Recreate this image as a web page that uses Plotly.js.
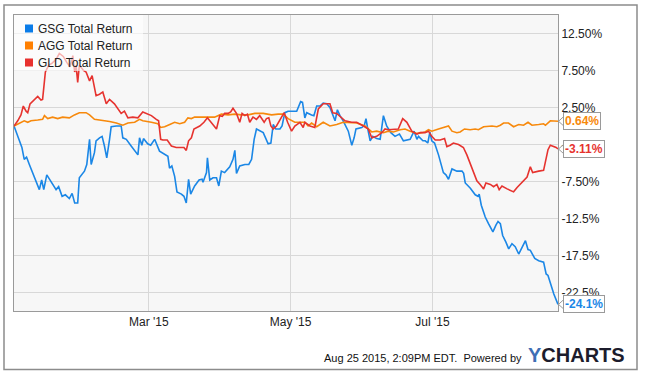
<!DOCTYPE html>
<html>
<head>
<meta charset="utf-8">
<script src="https://cdn.plot.ly/plotly-3.0.1.min.js"></script>
<style>
  html, body { margin: 0; padding: 0; background: #ffffff; }
  #chart { width: 648px; height: 374px; }
</style>
</head>
<body>
<div id="chart"></div>
<script>
// ---- Data (day-of-year 2015, total return in %) ----
var seriesNames = ["GSG Total Return", "AGG Total Return", "GLD Total Return"];
var seriesColors = ["#1b87e6", "#f7890c", "#e6332f"];

var gsgDays = [
  2, 4.3, 5.4, 6.4, 7.4, 8.6, 10.0, 11.5, 12.9, 13.9,
  14.8, 16.1, 18.0, 20.1, 21.2, 22.7, 24.1, 25.8, 27.0, 28.1,
  29.4, 30.1, 32.3, 33.3, 34.5, 35.2, 36.6, 37.3, 38.8, 39.9,
  40.9, 41.9, 43.1, 43.8, 46.0, 48.1, 48.8, 50.3, 52.4, 54.6,
  55.3, 56.0, 57.0, 57.7, 59.5, 60.8, 62.5, 64.6, 66.8, 68.2,
  68.9, 69.9, 71.1, 72.1, 74.0, 75.1, 76.1, 77.1, 78.0, 79.7,
  81.6, 82.9, 83.3, 84.8, 85.2, 86.2, 87.6, 89.1, 90.1, 91.2,
  92.6, 94.8, 96.2, 97.0, 97.7, 99.1, 101.3, 103.0, 104.2, 105.3,
  106.3, 107.7, 109.2, 110.2, 111.3, 112.5, 113.5, 114.6, 116.4, 117.3,
  118.5, 119.9, 123.6, 125.3, 126.1, 127.1, 127.9, 130.0, 131.0, 132.2,
  133.6, 135.0, 136.5, 137.9, 140.1, 141.1, 142.2, 143.6, 145.8, 147.3,
  148.3, 149.1, 151.6, 152.7, 153.4, 154.0, 155.2, 156.3, 158.0, 159.5,
  160.9, 162.3, 164.1, 165.9, 167.8, 169.5, 171.2, 172.4, 174.1, 175.3,
  176.0, 177.9, 178.9, 180.0, 180.9, 181.7, 182.9, 184.6, 186.7, 187.8,
  188.9, 190.4, 192.5, 194.7, 195.4, 196.1, 198.3, 200.4, 201.6, 202.1,
  203.0, 204.7, 206.1, 208.0, 209.3, 210.2, 211.2, 212.2, 213.6, 214.8,
  216.2, 217.6, 219.1, 220.8, 222.0, 223.1, 224.1, 226.0, 227.7, 229.8,
  230.9, 231.7, 232.7, 234.2, 236.0
];
var gsgVals = [
  0, -1.8, -2.9, -4.5, -4.2, -5.2, -6.3, -7.7, -8.6, -7.3,
  -8.6, -6.6, -7.5, -8.6, -8.2, -9.5, -9.3, -9.8, -9.1, -10.4,
  -10.4, -7.0, -6.1, -5.2, -1.8, -5.2, -3.6, -2.0, -1.6, -1.4,
  -2.7, -4.3, -1.8, -0.1, 0, 0, -1.6, -1.8, -2.7, -3.7,
  -3.9, -1.6, -2.6, -1.7, -2.4, -2.6, -1.8, -3.4, -3.9, -4.1,
  -5.7, -5.4, -6.8, -8.9, -9.2, -9.5, -10.4, -7.2, -9.2, -8.1,
  -7.3, -7.2, -7.6, -6.3, -4.3, -7.3, -7.0, -7.0, -8.1, -6.1,
  -6.3, -5.5, -4.5, -3.3, -6.4, -5.4, -5.2, -5.2, -4.5, -1.8,
  -0.4, -0.7, -0.9, -1.6, -2.4, -2.3, 0.2, -0.4, -0.4, 0,
  1.8, 2.0, 2.0, 3.3, 3.2, 1.1, 1.8, 1.5, 1.4, 2.7,
  2.7, 3.1, 3.0, 2.5, 0.7, 2.2, 1.4, 0.7, -0.7, -2.6,
  -1.6, -0.4, -0.2, 0.1, 1.0, -0.1, -2.0, -1.4, -1.7, -1.8,
  1.4, 0, -0.9, -1.4, -1.1, -2.0, -1.9, -1.8, -0.7, -1.8,
  -1.4, -2.0, -2.0, -2.3, -0.8, -2.0, -2.3, -3.9, -6.3, -6.6,
  -7.2, -5.8, -6.1, -6.1, -6.4, -7.7, -8.4, -9.3, -9.5, -9.2,
  -10.7, -12.3, -13.2, -14.3, -13.4, -12.9, -13.2, -14.8, -15.7, -16.6,
  -15.9, -16.3, -17.3, -16.3, -15.5, -16.7, -16.8, -17.9, -18.2, -18.4,
  -20.0, -20.2, -21.3, -22.7, -24.1
];

var aggDays = [
  2, 4.3, 6.4, 7.9, 9.3, 12.2, 14.3, 15.1, 16.5, 18.6,
  20.8, 22.9, 25.8, 28.0, 30.1, 33.0, 34.5, 36.6, 39.5, 43.1,
  46.0, 48.8, 51.0, 53.9, 56.0, 57.4, 61.1, 63.9, 65.1, 66.8,
  69.0, 71.1, 73.3, 75.4, 76.8, 78.3, 79.7, 82.6, 85.4, 88.3,
  91.2, 94.1, 97.0, 99.8, 102.7, 105.6, 109.2, 112.8, 115.6, 117.8,
  119.9, 122.8, 125.0, 127.1, 128.5, 130.0, 132.2, 135.0, 137.9, 140.8,
  143.6, 146.5, 149.4, 153.0, 155.9, 158.0, 160.9, 163.0, 165.2, 168.1,
  170.2, 172.4, 175.3, 177.4, 178.8, 180.3, 181.7, 184.6, 187.5, 188.9,
  190.4, 192.5, 193.9, 195.8, 198.2, 200.4, 201.8, 204.0, 207.6, 209.7,
  211.2, 212.6, 214.7, 216.9, 219.1, 221.2, 223.1, 224.8, 227.7, 229.8,
  230.6, 232.7, 236.0
];
var aggVals = [
  0, 0.4, 0.7, 0.5, 0.7, 0.8, 0.9, 1.4, 1.0, 1.2,
  1.0, 1.2, 1.1, 1.5, 1.8, 1.8, 1.5, 0.9, 0.8, 0.6,
  0.4, 0.1, 0.4, 0.5, 0.9, 0.7, 0.5, 0.3, -0.2, -0.1,
  0.2, 0.5, 0.3, 0.5, 1.1, 1.0, 1.2, 1.2, 1.3, 1.2,
  1.6, 1.5, 1.6, 1.5, 1.5, 1.7, 1.7, 1.5, 1.6, 1.6,
  1.0, 0.5, 0.5, 0.5, 0, 0.4, -0.1, 0.5, 0, 0.2,
  0.5, 0.5, 0.4, 0, -0.8, -0.7, -0.9, -0.7, -0.8, -0.5,
  -0.4, -0.7, -1.0, -0.9, -0.8, -0.5, -0.7, -0.4, -0.1, 0,
  -0.7, -0.9, -0.8, -0.4, -0.5, -0.4, -0.5, -0.1, 0, -0.1,
  0.1, 0.4, 0.4, -0.1, 0.2, 0.1, 0.5, 0.1, 0.2, 0.3,
  0.1, 0.7, 0.64
];

var gldDays = [
  2, 3.6, 5.0, 6.0, 7.2, 7.9, 8.9, 10.7, 12.2, 13.6,
  14.3, 15.5, 16.9, 18.4, 20.1, 21.5, 23.2, 24.7, 26.1, 27.3,
  28.1, 28.7, 29.4, 30.1, 31.9, 33.0, 34.5, 35.6, 37.3, 38.8,
  40.2, 41.7, 43.1, 45.2, 46.7, 48.1, 49.5, 51.0, 53.1, 55.3,
  57.4, 61.1, 63.2, 64.2, 65.1, 66.0, 67.9, 69.7, 71.8, 74.0,
  75.1, 76.1, 77.1, 78.3, 79.4, 81.9, 83.7, 85.2, 86.9, 89.1,
  90.5, 91.6, 92.6, 94.1, 95.2, 96.2, 97.7, 99.1, 100.1, 101.3,
  102.4, 103.4, 104.8, 106.3, 107.7, 109.6, 110.6, 111.6, 112.5, 113.5,
  114.9, 116.3, 118.2, 119.7, 121.4, 122.8, 125.0, 126.4, 127.1, 129.3,
  131.4, 132.9, 135.0, 137.9, 139.1, 140.8, 142.9, 144.4, 147.2, 149.4,
  152.3, 154.4, 155.9, 158.0, 160.2, 161.6, 163.0, 165.9, 167.3, 169.2,
  171.0, 173.1, 175.3, 176.7, 178.8, 180.3, 181.7, 183.2, 185.3, 187.2,
  188.2, 189.6, 191.0, 193.2, 195.3, 196.8, 199.0, 201.1, 202.5, 204.0,
  205.0, 206.9, 208.3, 209.7, 210.7, 211.9, 214.1, 215.5, 216.9, 218.4,
  220.5, 222.7, 224.1, 225.1, 227.7, 229.8, 231.7, 232.7, 235.2, 236.0
];
var gldVals = [
  0, 0.7, 1.5, 2.7, 2.0, 1.8, 3.0, 3.5, 4.0, 3.5,
  3.6, 7.3, 8.2, 8.5, 9.0, 9.8, 9.4, 8.6, 8.0, 9.5,
  7.3, 8.2, 5.9, 8.2, 7.5, 7.3, 6.1, 6.8, 4.1, 4.3,
  4.6, 3.0, 3.6, 3.0, 2.3, 1.7, 2.0, 1.1, 1.2, 1.1,
  1.9, 1.4, 0.9, 0.7, -1.8, -1.9, -1.9, -2.7, -2.9, -2.9,
  -2.9, -3.3, -2.0, -1.6, -0.4, 0, 0.5, 1.1, 0.5, -0.4,
  1.4, 1.3, 1.7, 1.7, 1.9, 2.4, 1.7, 0.5, 1.7, 1.4,
  1.6, 0.5, 1.2, 0.9, 1.4, 0.5, 1.0, 1.1, 0, -0.4,
  0, 0.7, 1.8, 0.5, -0.7, 0, 0.5, -0.2, 0.5, 0,
  -0.2, 2.3, 3.0, 3.0, 1.8, 1.7, 1.1, 0.7, 0.5, 0.5,
  0, -0.4, -1.6, -1.4, -0.9, -0.4, -0.5, -0.4, -0.4, 1.0,
  0.5, -0.7, -1.1, -0.9, -0.9, -0.7, -1.4, -1.9, -1.9, -1.7,
  -2.8, -2.6, -2.3, -2.5, -2.9, -3.9, -5.8, -7.4, -7.9, -8.5,
  -7.7, -7.9, -8.2, -7.9, -8.6, -8.1, -8.5, -8.7, -8.9, -8.3,
  -7.6, -6.9, -5.5, -6.3, -6.1, -6.0, -3.2, -2.6, -2.9, -3.11
];

var endLabels = ["-24.1%", "0.64%", "-3.11%"];

var yTickVals = [12.5, 7.5, 2.5, -2.5, -7.5, -12.5, -17.5, -22.5];
var yTickText = ["12.50%", "7.50%", "2.50%", "-2.50%", "-7.50%", "-12.5%", "-17.5%", "-22.5%"];
var xTickVals = ["2015-03-01", "2015-05-01", "2015-07-01"];
var xTickText = ["Mar '15", "May '15", "Jul '15"];
var xRange = ["2015-01-02", "2015-08-24"];
var yRange = [-25, 15];

var footerText = "Aug 25 2015, 2:09PM EDT.  Powered by";

// ---- helpers ----
function dayToDate(d) {
  var ms = Date.UTC(2015, 0, 1) + (d - 1) * 86400000;
  return new Date(ms).toISOString().replace('T', ' ').slice(0, 19);
}

var allDays = [gsgDays, aggDays, gldDays];
var allVals = [gsgVals, aggVals, gldVals];

var FONT = "Liberation Sans, Arial, Helvetica, sans-serif";

var traces = [];
for (var i = 0; i < 3; i++) {
  traces.push({
    type: 'scatter',
    mode: 'lines',
    name: seriesNames[i],
    x: allDays[i].map(dayToDate),
    y: allVals[i],
    line: { color: seriesColors[i], width: 1.6 },
    hoverinfo: 'skip',
    showlegend: false
  });
}

// plot area geometry (px) used for paper-space decorations
var W = 648, H = 374;
var mL = 14, mR = 90, mT = 15, mB = 63;
var pw = W - mL - mR, ph = H - mT - mB;
function px2paperX(px) { return (px - mL) / pw; }
function px2paperY(py) { return (H - mB - py) / ph; }

var shapes = [];
var annotations = [];

// outer frame
shapes.push({
  type: 'rect', xref: 'paper', yref: 'paper', layer: 'above',
  x0: px2paperX(4), x1: px2paperX(637), y0: px2paperY(369.5), y1: px2paperY(5),
  line: { color: '#8c8c8c', width: 1.5 }, fillcolor: 'rgba(0,0,0,0)'
});

// legend background
shapes.push({
  type: 'rect', xref: 'paper', yref: 'paper', layer: 'above',
  x0: 0, x1: px2paperX(143), y0: px2paperY(71), y1: 1,
  line: { width: 0 }, fillcolor: 'rgba(255,255,255,0.62)'
});

var legendY = [28.5, 45.5, 62.5];
var legendSquareColors = ["#0a7ce8", "#ff7f00", "#e8312f"];
for (var k = 0; k < 3; k++) {
  shapes.push({
    type: 'rect', xref: 'paper', yref: 'paper', layer: 'above',
    x0: px2paperX(25), x1: px2paperX(33),
    y0: px2paperY(legendY[k] + 4), y1: px2paperY(legendY[k] - 4),
    line: { width: 0 }, fillcolor: legendSquareColors[k]
  });
  annotations.push({
    xref: 'paper', yref: 'paper', x: px2paperX(36), y: px2paperY(legendY[k]),
    xanchor: 'left', yanchor: 'middle', showarrow: false,
    text: seriesNames[k], font: { family: FONT, size: 12, color: '#222' }
  });
}

// end-value labels with pointer
var pxPerUnit = ph / (yRange[1] - yRange[0]);
for (var j = 0; j < 3; j++) {
  var v = allVals[j][allVals[j].length - 1];
  var dv = 4.5 / pxPerUnit;
  var xa = 1 + 5.5 / pw, xb = 1 + 0.5 / pw;
  shapes.push({
    type: 'path', xref: 'paper', yref: 'y', layer: 'above',
    path: 'M ' + xa + ' ' + (v + dv) + ' L ' + xb + ' ' + v + ' L ' + xa + ' ' + (v - dv),
    line: { color: '#9a9a9a', width: 1 }, fillcolor: 'rgba(0,0,0,0)'
  });
  annotations.push({
    xref: 'paper', yref: 'y', x: 1, y: v, xshift: 5,
    xanchor: 'left', yanchor: 'middle', showarrow: false,
    text: '<b>' + endLabels[j] + '</b>',
    font: { family: FONT, size: 12, color: seriesColors[j] },
    bgcolor: '#ffffff', bordercolor: '#9a9a9a', borderwidth: 1, borderpad: 1
  });
}

// footer
annotations.push({
  xref: 'paper', yref: 'paper', x: px2paperX(524), y: px2paperY(358),
  xanchor: 'right', yanchor: 'middle', showarrow: false,
  text: footerText, font: { family: FONT, size: 11, color: '#111' }
});
annotations.push({
  xref: 'paper', yref: 'paper', x: px2paperX(526), y: px2paperY(355),
  xanchor: 'left', yanchor: 'middle', showarrow: false,
  text: '<b><span style="color:#3f6fb5">Y</span>CHARTS</b>',
  font: { family: FONT, size: 20, color: '#1c1c2c' }
});

var layout = {
  width: W, height: H,
  margin: { l: mL, r: mR, t: mT, b: mB, pad: 0 },
  paper_bgcolor: '#ffffff',
  plot_bgcolor: '#f7f7f7',
  font: { family: FONT, size: 12, color: '#222' },
  showlegend: false,
  xaxis: {
    type: 'date', range: xRange,
    tickmode: 'array', tickvals: xTickVals, ticktext: xTickText,
    showgrid: true, gridcolor: '#d8d8d8', gridwidth: 1,
    ticks: '', zeroline: false,
    showline: true, mirror: true, linecolor: '#9a9a9a', linewidth: 1,
    tickfont: { family: FONT, size: 12, color: '#222' }
  },
  yaxis: {
    side: 'right', range: yRange,
    tickmode: 'array', tickvals: yTickVals, ticktext: yTickText,
    showgrid: true, gridcolor: '#d8d8d8', gridwidth: 1,
    ticks: '', zeroline: false,
    showline: true, mirror: true, linecolor: '#9a9a9a', linewidth: 1,
    tickfont: { family: FONT, size: 12, color: '#222' }
  },
  shapes: shapes,
  annotations: annotations
};

Plotly.newPlot('chart', traces, layout, { staticPlot: true, displayModeBar: false });
</script>
</body>
</html>
